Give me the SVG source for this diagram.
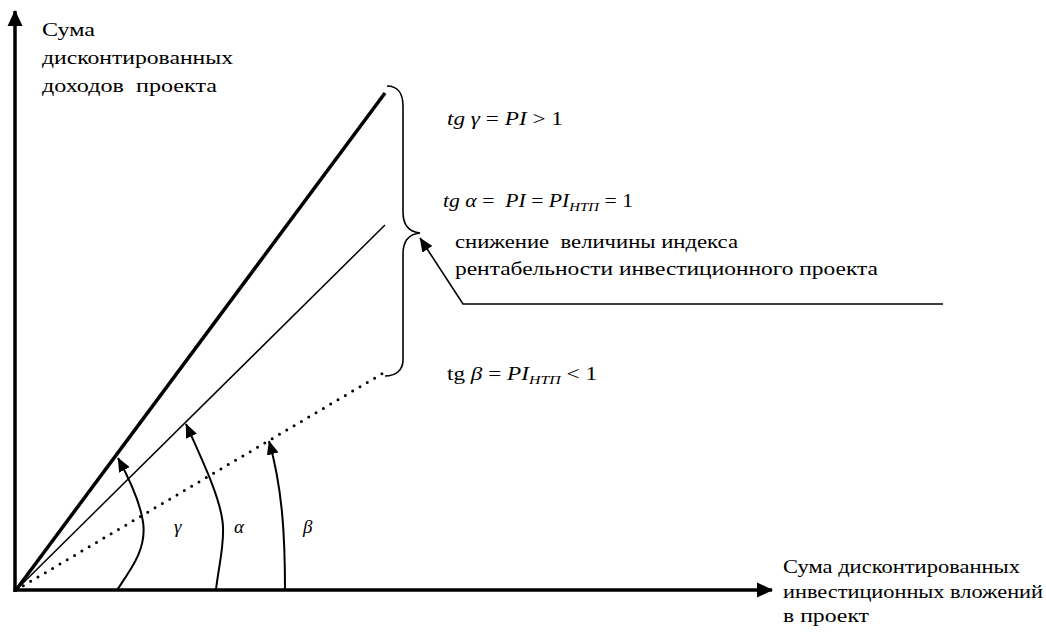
<svg xmlns="http://www.w3.org/2000/svg" width="1046" height="632" viewBox="0 0 1046 632">
<style>
  text { font-family: "Liberation Serif", "Times New Roman", serif; font-size: 19px; fill: #000; }
  .i { font-style: italic; }
  .sub { font-size: 13px; font-style: italic; }
  .br { font-size: 18px; }
  .ax { stroke: #000; stroke-width: 3.5; fill: none; }
  .ln { stroke: #000; fill: none; }
</style>
<defs>
  <marker id="ah" markerUnits="userSpaceOnUse" markerWidth="16" markerHeight="16" viewBox="0 0 16 16" refX="15" refY="8" orient="auto">
    <path d="M0,0.5 L16,8 L0,15.5 z" fill="#000"/>
  </marker>
  <marker id="ah2" markerUnits="userSpaceOnUse" markerWidth="14" markerHeight="12" viewBox="0 0 14 12" refX="13.5" refY="6" orient="auto">
    <path d="M0,0 L14,6 L0,12 z" fill="#000"/>
  </marker>
</defs>
<rect width="1046" height="632" fill="#fff"/>
<g id="connectors">
  <line class="ax" x1="15" y1="592" x2="15" y2="11" marker-end="url(#ah)"/>
  <line class="ax" x1="13.5" y1="590" x2="772" y2="590" marker-end="url(#ah)"/>
  <line class="ln" x1="16" y1="590" x2="385" y2="93" stroke-width="3.5"/>
  <line class="ln" x1="16" y1="590" x2="385" y2="225" stroke-width="1.5"/>
  <line class="ln" x1="16" y1="590" x2="385" y2="372" stroke-width="3" stroke-dasharray="0 8.5" stroke-linecap="round"/>
  <path class="ln" stroke-width="2" d="M117,590 C132,568 147,548 143,522 C140,502 131,482 118,458" marker-end="url(#ah2)"/>
  <path class="ln" stroke-width="2" d="M216,590 C218,570 224,548 223,527 C222,502 205,466 186,424" marker-end="url(#ah2)"/>
  <path class="ln" stroke-width="2" d="M285,590 C285,540 283,490 269,441" marker-end="url(#ah2)"/>
  <path class="ln" stroke-width="1.6" d="M387,86 C398,86 403,94 403,106 L403,212 C403,226 410,232 420,233 C410,234 403,240 403,254 L403,360 C403,370 396,376 385,376"/>
  <polyline class="ln" stroke-width="1.6" points="943,304 463,304 420,238" marker-end="url(#ah2)"/>
</g>
<g id="y-axis-label">
  <text x="42" y="36" textLength="53" lengthAdjust="spacingAndGlyphs">Сума</text>
  <text x="42" y="64" textLength="191" lengthAdjust="spacingAndGlyphs">дисконтированных</text>
  <text x="42" y="92" xml:space="preserve" textLength="175" lengthAdjust="spacingAndGlyphs">доходов  проекта</text>
</g>
<g id="x-axis-label">
  <text class="br" x="783" y="573" textLength="237" lengthAdjust="spacingAndGlyphs">Сума дисконтированных</text>
  <text class="br" x="783" y="598" textLength="260" lengthAdjust="spacingAndGlyphs">инвестиционных вложений</text>
  <text class="br" x="783" y="622" textLength="86" lengthAdjust="spacingAndGlyphs">в проект</text>
</g>
<g id="tg-gamma">
  <text x="447" y="125" textLength="116" lengthAdjust="spacingAndGlyphs"><tspan class="i">tg γ</tspan> = <tspan class="i">PI</tspan> &gt; 1</text>
</g>
<g id="tg-alpha">
  <text x="443" y="207" xml:space="preserve" textLength="190" lengthAdjust="spacingAndGlyphs"><tspan class="i">tg α</tspan> =  <tspan class="i">PI</tspan> = <tspan class="i">PI</tspan><tspan class="sub" dy="4">НТП</tspan><tspan dy="-4"> = 1</tspan></text>
</g>
<g id="tg-beta">
  <text x="447" y="380" textLength="150" lengthAdjust="spacingAndGlyphs">tg <tspan class="i">β</tspan> = <tspan class="i">PI</tspan><tspan class="sub" dy="4">НТП</tspan><tspan dy="-4"> &lt; 1</tspan></text>
</g>
<g id="decrease-note">
  <text x="455" y="248" xml:space="preserve" textLength="283" lengthAdjust="spacingAndGlyphs">снижение  величины индекса</text>
  <text x="455" y="275" textLength="423" lengthAdjust="spacingAndGlyphs">рентабельности инвестиционного проекта</text>
</g>
<g id="angle-labels">
  <text class="i" x="174" y="533">γ</text>
  <text class="i" x="234" y="533">α</text>
  <text class="i" x="303" y="533">β</text>
</g>
</svg>
